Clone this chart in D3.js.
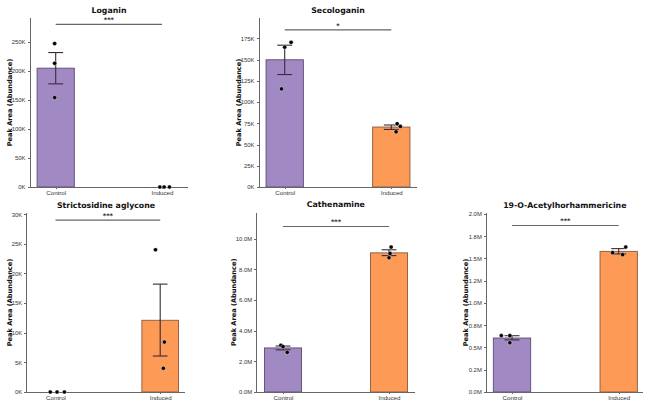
<!DOCTYPE html>
<meta charset="utf-8">
<style>
 body { margin: 0; background: #fff; }
 svg { font-family: "DejaVu Sans", sans-serif; background: #fff; }
 .axis path, .axis line { stroke: #666; shape-rendering: crispEdges; }
 .axis text { fill: #333; font-size: 5.9px; }
</style>
<body>
<svg width="651" height="406"></svg>
</body>
<script src="https://d3js.org/d3.v7.min.js"></script>
<script>
 // chart data, one entry per panel
 var titles = ["Loganin", "Secologanin", "Strictosidine aglycone", "Cathenamine", "19-O-Acetylhorhammericine"];
 var groups = ["Control", "Induced"];
 var barMeans = [[204600, 0], [149800, 70600], [0, 12100], [2.876e6, 9.08e6], [0.606e6, 1.579e6]];
 var errLow  = [[177600, 0], [132400, 67800], [0, 6070], [2.75e6, 8.90e6], [0.585e6, 1.55e6]];
 var errHigh = [[231500, 0], [167000, 73000], [0, 18200], [3.00e6, 9.28e6], [0.632e6, 1.61e6]];
 var pointVals = [
   [[247000, 213000, 154000], [0, 0, 0]],
   [[164700, 170300, 115500], [74500, 71300, 65000]],
   [[0, 0, 0], [24000, 8430, 4000]],
   [[3.05e6, 2.96e6, 2.59e6], [9.46e6, 9.04e6, 8.76e6]],
   [[0.632e6, 0.632e6, 0.553e6], [1.565e6, 1.542e6, 1.628e6]]
 ];
 // horizontal jitter of the points, in category units
 var pointJitter = [
   [[-0.01, -0.01, -0.01], [-0.02, 0.02, 0.07]],
   [[0.0, 0.06, -0.03], [0.055, 0.085, 0.045]],
   [[-0.05, 0.015, 0.085], [-0.045, 0.04, 0.03]],
   [[-0.02, 0.0, 0.04], [0.02, 0.01, 0.0]],
   [[-0.10, -0.02, -0.02], [-0.057, 0.037, 0.066]]
 ];
 var yMax = [291000, 199000, 30200, 11.7e6, 2.01e6];
 var tickValues = [
   [0, 50000, 100000, 150000, 200000, 250000],
   [0, 25000, 50000, 75000, 100000, 125000, 150000, 175000],
   [0, 5000, 10000, 15000, 20000, 25000, 30000],
   [0, 2e6, 4e6, 6e6, 8e6, 10e6],
   [0, 0.25e6, 0.5e6, 0.75e6, 1e6, 1.25e6, 1.5e6, 1.75e6, 2e6]
 ];
 var tickLabels = [
   ["0K", "50K", "100K", "150K", "200K", "250K"],
   ["0K", "25K", "50K", "75K", "100K", "125K", "150K", "175K"],
   ["0K", "5K", "10K", "15K", "20K", "25K", "30K"],
   ["0.0M", "2.0M", "4.0M", "6.0M", "8.0M", "10.0M"],
   ["0.0M", "0.2M", "0.5M", "0.8M", "1.0M", "1.2M", "1.5M", "1.8M", "2.0M"]
 ];
 var sigLevel = [280000, 185000, 29000, 10.8e6, 1.87e6];
 var sigLabels = ["***", "*", "***", "***", "***"];

 var colors = ["#a18ac3", "#fd9a56"];
 var edges = ["#5b4a72", "#8a5a3c"];

 // panel frames in page pixels (plot area)
 var frames = [
   {l: 30,    r: 188,   t: 18,    b: 187, c0: 55.7,  c1: 162,   yl: 9},
   {l: 259,   r: 417,   t: 18,    b: 187, c0: 284.7, c1: 391.3, yl: 238.5},
   {l: 26.7,  r: 185.3, t: 213,   b: 392, c0: 55.5,  c1: 160.2, yl: 9},
   {l: 256.7, r: 415,   t: 212.7, b: 392, c0: 283,   c1: 389,   yl: 233.5},
   {l: 486.3, r: 643.3, t: 213,   b: 392, c0: 512,   c1: 618.7, yl: 465}
 ];

 var svg = d3.select("svg");

 titles.forEach(function(title, i){
     var f = frames[i];
     var g = svg.append("g");

     var x = d3.scaleLinear().domain([0, 1]).range([f.c0, f.c1]);
     var y = d3.scaleLinear().domain([0, yMax[i]]).range([f.b, f.t]);
     var barW = 0.35, capW = 0.07;

     // bars
     g.selectAll("rect.bar")
      .data(groups)
      .enter().append("rect")
      .attr("x", function(d, j){ return x(j - barW / 2); })
      .attr("width", x(barW) - x(0))
      .attr("y", function(d, j){ return y(barMeans[i][j]); })
      .attr("height", function(d, j){ return y(0) - y(barMeans[i][j]); })
      .attr("fill", function(d, j){ return colors[j]; })
      .attr("stroke", function(d, j){ return edges[j]; })
      .attr("stroke-width", 0.9);

     // axes
     var yAxis = d3.axisLeft(y).tickValues(tickValues[i]).tickSize(2.5).tickPadding(2)
                   .tickFormat(function(d, k){ return tickLabels[i][k]; });
     var yG = g.append("g").attr("class", "axis")
               .attr("transform", "translate(" + f.l + ",0)")
               .call(yAxis);
     yG.select(".domain").attr("d", "M0," + f.t + "V" + f.b);

     var xAxis = d3.axisBottom(x).tickValues([0, 1]).tickSize(2).tickPadding(2)
                   .tickFormat(function(d){ return groups[d]; });
     var xG = g.append("g").attr("class", "axis")
               .attr("transform", "translate(0," + f.b + ")")
               .call(xAxis);
     xG.select(".domain").attr("d", "M" + f.l + ",0H" + f.r);
     xG.selectAll("text").style("font-size", "6.2px");

     // error bars
     var err = g.selectAll("g.err")
                .data(groups.map(function(d, j){ return j; }).filter(function(j){ return errHigh[i][j] > errLow[i][j]; }))
                .enter().append("g")
                .attr("stroke", "#3a2a3a").attr("stroke-width", 1.1);
     err.append("line")
        .attr("x1", function(j){ return x(j); }).attr("x2", function(j){ return x(j); })
        .attr("y1", function(j){ return y(errLow[i][j]); }).attr("y2", function(j){ return y(errHigh[i][j]); });
     err.append("line")
        .attr("x1", function(j){ return x(j - capW); }).attr("x2", function(j){ return x(j + capW); })
        .attr("y1", function(j){ return y(errLow[i][j]); }).attr("y2", function(j){ return y(errLow[i][j]); });
     err.append("line")
        .attr("x1", function(j){ return x(j - capW); }).attr("x2", function(j){ return x(j + capW); })
        .attr("y1", function(j){ return y(errHigh[i][j]); }).attr("y2", function(j){ return y(errHigh[i][j]); });

     // points
     var pts = [];
     pointVals[i].forEach(function(vals, j){
         vals.forEach(function(v, k){ pts.push({gx: j + pointJitter[i][j][k], v: v}); });
     });
     g.selectAll("circle")
      .data(pts)
      .enter().append("circle")
      .attr("cx", function(d){ return x(d.gx); })
      .attr("cy", function(d){ return y(d.v); })
      .attr("r", 2.1)
      .attr("fill", "#000")
      .attr("stroke", "#fff")
      .attr("stroke-width", 0.4);

     // significance bracket
     g.append("line")
      .attr("x1", x(0)).attr("x2", x(1))
      .attr("y1", y(sigLevel[i])).attr("y2", y(sigLevel[i]))
      .attr("stroke", "#666").attr("stroke-width", 1.1);
     g.append("text")
      .attr("x", (x(0) + x(1)) / 2)
      .attr("y", y(sigLevel[i]) - 2)
      .attr("text-anchor", "middle")
      .style("font-size", "6.5px").style("font-weight", "bold").attr("fill", "#222")
      .text(sigLabels[i]);

     // title and y label
     g.append("text")
      .attr("x", (f.l + f.r) / 2)
      .attr("y", f.t - 5.5)
      .attr("text-anchor", "middle")
      .style("font-size", "7.8px").style("font-weight", "bold").attr("fill", "#111")
      .text(title);
     g.append("text")
      .attr("transform", "translate(" + (f.yl + 2.5) + "," + ((f.t + f.b) / 2) + ") rotate(-90)")
      .attr("text-anchor", "middle")
      .style("font-size", "6.6px").style("font-weight", "bold").attr("fill", "#111")
      .text("Peak Area (Abundance)");
 });
</script>
</html>
